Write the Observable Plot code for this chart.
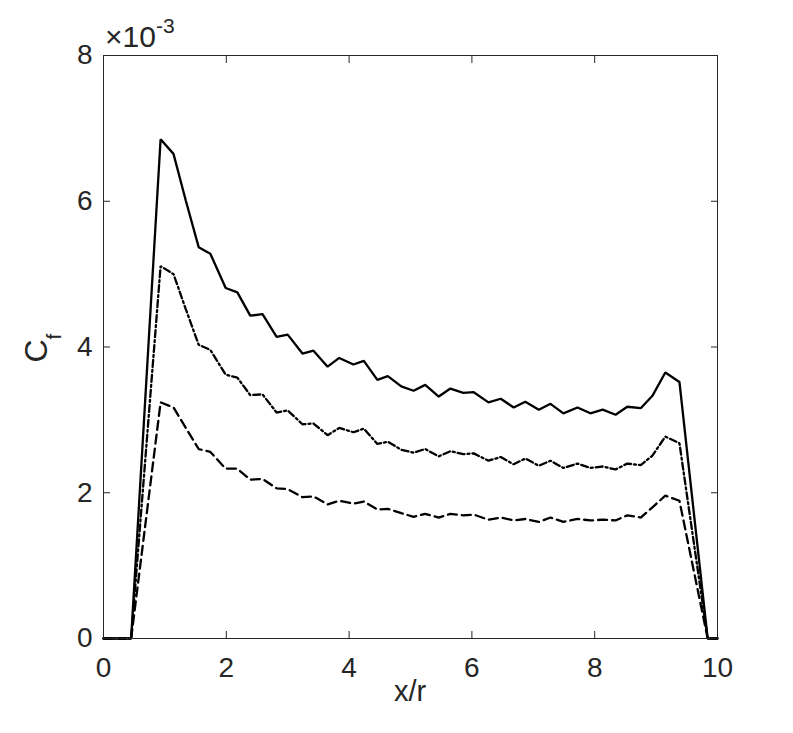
<!DOCTYPE html>
<html>
<head>
<meta charset="utf-8">
<script src="https://cdn.jsdelivr.net/npm/d3@7"></script>
<script src="https://cdn.jsdelivr.net/npm/@observablehq/plot@0.6"></script>
<style>
  html, body { margin: 0; padding: 0; background: #fff; }
  #chart { width: 793px; height: 733px; }
</style>
</head>
<body>
<div id="chart"></div>
<script>
// x/r positions (shared by the three curves)
const xr = [0, 0.45, 0.93, 1.14, 1.34, 1.55, 1.74, 1.99, 2.18, 2.39, 2.59, 2.82, 3.00, 3.24, 3.42, 3.65,
  3.84, 4.07, 4.24, 4.46, 4.63, 4.85, 5.05, 5.24, 5.46, 5.65, 5.86, 6.03, 6.27, 6.47, 6.68, 6.87,
  7.09, 7.28, 7.49, 7.72, 7.93, 8.13, 8.34, 8.53, 8.75, 8.94, 9.15, 9.38, 9.84, 10];

// C_f values in units of 1e-3
const cfSolid = [0, 0, 6.85, 6.65, 6.01, 5.37, 5.28, 4.81, 4.75, 4.43, 4.45, 4.14, 4.17, 3.91, 3.95, 3.73,
  3.85, 3.76, 3.81, 3.55, 3.60, 3.46, 3.40, 3.48, 3.32, 3.43, 3.37, 3.38, 3.24, 3.29, 3.17, 3.25,
  3.14, 3.22, 3.09, 3.17, 3.09, 3.14, 3.07, 3.18, 3.16, 3.33, 3.65, 3.52, 0, 0];
const cfDashDot = [0, 0, 5.11, 5.00, 4.52, 4.03, 3.96, 3.62, 3.58, 3.34, 3.35, 3.10, 3.13, 2.94, 2.95, 2.79,
  2.89, 2.83, 2.88, 2.67, 2.70, 2.59, 2.55, 2.60, 2.50, 2.57, 2.53, 2.54, 2.44, 2.49, 2.39, 2.47,
  2.37, 2.44, 2.34, 2.40, 2.34, 2.36, 2.32, 2.40, 2.38, 2.51, 2.77, 2.68, 0, 0];
const cfDashed = [0, 0, 3.24, 3.17, 2.89, 2.60, 2.56, 2.33, 2.33, 2.18, 2.19, 2.06, 2.05, 1.94, 1.95, 1.84,
  1.89, 1.85, 1.88, 1.77, 1.78, 1.72, 1.67, 1.71, 1.66, 1.71, 1.69, 1.70, 1.63, 1.66, 1.62, 1.64,
  1.60, 1.66, 1.60, 1.64, 1.62, 1.63, 1.62, 1.69, 1.66, 1.80, 1.96, 1.89, 0, 0];

const xTicks = [0, 2, 4, 6, 8, 10];
const yTicks = [0, 2, 4, 6, 8];

const series = [
  {name: "solid", values: cfSolid, dash: null},
  {name: "dashdot", values: cfDashDot, dash: "7,3,2,3"},
  {name: "dashed", values: cfDashed, dash: "9,5"}
];

const axisColor = "#262626";
const font = "'Liberation Sans', Arial, Helvetica, sans-serif";

const lineMarks = series.map(s =>
  Plot.line(xr.map((x, i) => ({x, y: s.values[i]})), {
    x: "x", y: "y", stroke: "black", strokeWidth: 2.3,
    strokeDasharray: s.dash, strokeLinejoin: "miter", curve: "linear"
  })
);

const fmt = d => String(d);

const chart = Plot.plot({
  width: 793,
  height: 733,
  marginLeft: 103,
  marginRight: 76,
  marginTop: 55,
  marginBottom: 95,
  style: {fontFamily: font, color: axisColor, background: "white", overflow: "visible"},
  x: {domain: [0, 10]},
  y: {domain: [0, 8]},
  marks: [
    ...lineMarks,
    Plot.axisX(xTicks, {anchor: "bottom", tickSize: -7, tickPadding: 26, fontSize: 28, tickFormat: fmt, label: null, stroke: axisColor, fill: axisColor}),
    Plot.axisX(xTicks, {anchor: "top", tickSize: -7, tickFormat: () => "", label: null, stroke: axisColor}),
    Plot.axisY(yTicks, {anchor: "left", tickSize: -7, tickPadding: 18, fontSize: 28, tickFormat: fmt, label: null, stroke: axisColor, fill: axisColor}),
    Plot.axisY(yTicks, {anchor: "right", tickSize: -7, tickFormat: () => "", label: null, stroke: axisColor}),
    Plot.frame({stroke: axisColor, strokeWidth: 1})
  ]
});

document.getElementById("chart").appendChild(chart);

const svg = d3.select(chart);
// x label
svg.append("text")
  .attr("x", 410).attr("y", 701)
  .attr("text-anchor", "middle")
  .attr("font-family", font).attr("font-size", 29).attr("fill", axisColor)
  .text("x/r");
// y label C_f
const yl = svg.append("text")
  .attr("transform", "translate(47,348) rotate(-90)")
  .attr("text-anchor", "middle")
  .attr("font-family", font).attr("font-size", 32).attr("fill", axisColor);
yl.append("tspan").text("C");
yl.append("tspan").attr("font-size", 21).attr("dy", 14).text("f");
// exponent ×10^-3
const ex = svg.append("text")
  .attr("x", 105).attr("y", 47)
  .attr("text-anchor", "start")
  .attr("font-family", font).attr("font-size", 30).attr("fill", axisColor);
ex.append("tspan").text("×10");
ex.append("tspan").attr("font-size", 21).attr("dy", -14).text("-3");
</script>
</body>
</html>
